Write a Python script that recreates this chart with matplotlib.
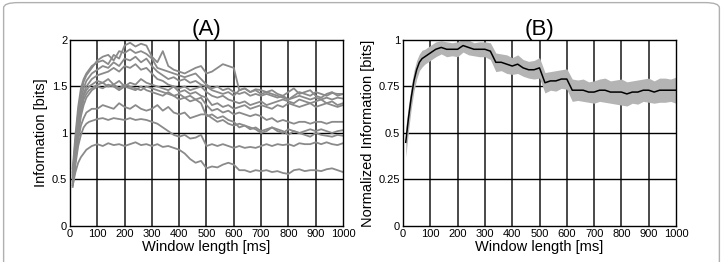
import numpy as np
import matplotlib.pyplot as plt
from matplotlib.patches import FancyBboxPatch

plt.rcParams['font.family'] = ['Liberation Sans', 'DejaVu Sans']

# window length axis (ms)
x = [10, 20, 30, 40, 50, 60, 70, 80, 90,
     100, 120, 140, 160, 180, 200, 220, 240, 260, 280,
     300, 320, 340, 360, 380, 400, 420, 440, 460, 480,
     500, 520, 540, 560, 580, 600, 620, 640, 660, 680,
     700, 720, 740, 760, 780, 800, 820, 840, 860, 880,
     900, 920, 940, 960, 980, 1000]

# (A) information per cell [bits]
info_curves = [
    [0.62, 0.98, 1.28, 1.48, 1.58, 1.64, 1.68, 1.72, 1.74,
     1.76, 1.78, 1.74, 1.84, 1.80, 1.94, 1.97, 1.93, 1.96, 1.94,
     1.82, 1.76, 1.88, 1.72, 1.68, 1.66, 1.64, 1.67, 1.70, 1.72,
     1.64, 1.66, 1.70, 1.74, 1.72, 1.70, 1.46, 1.48, 1.44, 1.47,
     1.46, 1.44, 1.42, 1.40, 1.38, 1.36, 1.40, 1.44, 1.42, 1.40,
     1.44, 1.42, 1.40, 1.43, 1.42, 1.42],
    [0.58, 0.92, 1.22, 1.42, 1.55, 1.62, 1.66, 1.70, 1.74,
     1.78, 1.82, 1.84, 1.78, 1.88, 1.86, 1.90, 1.86, 1.88, 1.85,
     1.80, 1.70, 1.68, 1.66, 1.64, 1.62, 1.60, 1.62, 1.64, 1.58,
     1.52, 1.48, 1.50, 1.46, 1.48, 1.44, 1.42, 1.44, 1.40, 1.42,
     1.40, 1.42, 1.40, 1.38, 1.40, 1.36, 1.38, 1.40, 1.38, 1.36,
     1.38, 1.36, 1.38, 1.36, 1.38, 1.37],
    [0.55, 0.88, 1.16, 1.36, 1.48, 1.56, 1.60, 1.64, 1.66,
     1.68, 1.72, 1.70, 1.76, 1.72, 1.80, 1.78, 1.82, 1.76, 1.80,
     1.72, 1.66, 1.62, 1.58, 1.60, 1.56, 1.58, 1.54, 1.56, 1.52,
     1.50, 1.46, 1.44, 1.42, 1.44, 1.40, 1.46, 1.48, 1.44, 1.46,
     1.42, 1.44, 1.46, 1.42, 1.40, 1.44, 1.48, 1.42, 1.44, 1.46,
     1.40, 1.38, 1.42, 1.44, 1.40, 1.42],
    [0.52, 0.84, 1.10, 1.30, 1.42, 1.50, 1.54, 1.58, 1.60,
     1.62, 1.64, 1.66, 1.70, 1.66, 1.72, 1.70, 1.74, 1.68, 1.70,
     1.64, 1.58, 1.56, 1.52, 1.50, 1.48, 1.50, 1.46, 1.48, 1.50,
     1.44, 1.40, 1.38, 1.40, 1.36, 1.34, 1.32, 1.34, 1.30, 1.32,
     1.34, 1.30, 1.32, 1.34, 1.36, 1.34, 1.32, 1.36, 1.34, 1.32,
     1.34, 1.36, 1.32, 1.34, 1.30, 1.32],
    [0.50, 0.80, 1.06, 1.26, 1.40, 1.46, 1.50, 1.52, 1.54,
     1.56, 1.54, 1.58, 1.52, 1.56, 1.50, 1.54, 1.52, 1.58, 1.54,
     1.52, 1.50, 1.48, 1.46, 1.50, 1.44, 1.46, 1.42, 1.44, 1.40,
     1.38, 1.30, 1.32, 1.28, 1.30, 1.26, 1.28, 1.30, 1.26, 1.28,
     1.30, 1.28, 1.26, 1.30, 1.28, 1.32, 1.30, 1.28, 1.30, 1.32,
     1.28, 1.30, 1.32, 1.30, 1.28, 1.30],
    [0.48, 0.78, 1.02, 1.22, 1.36, 1.42, 1.46, 1.48, 1.50,
     1.52, 1.54, 1.50, 1.52, 1.48, 1.52, 1.50, 1.48, 1.46, 1.50,
     1.48, 1.46, 1.44, 1.42, 1.40, 1.42, 1.38, 1.40, 1.36, 1.38,
     1.30, 1.24, 1.26, 1.22, 1.24, 1.20, 1.22, 1.20, 1.18, 1.20,
     1.18, 1.14, 1.16, 1.12, 1.14, 1.12, 1.10, 1.12, 1.12, 1.10,
     1.12, 1.12, 1.10, 1.12, 1.12, 1.12],
    [0.46, 0.74, 0.98, 1.18, 1.30, 1.38, 1.42, 1.46, 1.48,
     1.50, 1.48, 1.52, 1.50, 1.46, 1.50, 1.48, 1.46, 1.50, 1.46,
     1.44, 1.42, 1.40, 1.44, 1.40, 1.36, 1.38, 1.34, 1.36, 1.32,
     1.18, 1.20, 1.16, 1.18, 1.14, 1.12, 1.06, 1.08, 1.04, 1.06,
     1.02, 1.04, 1.06, 1.02, 1.00, 1.04, 1.02, 1.00, 1.02, 1.04,
     1.02, 1.04, 1.02, 1.00, 1.02, 1.03],
    [0.44, 0.70, 0.92, 1.08, 1.16, 1.22, 1.24, 1.26, 1.26,
     1.26, 1.30, 1.28, 1.26, 1.32, 1.28, 1.26, 1.30, 1.26, 1.24,
     1.26, 1.30, 1.24, 1.28, 1.22, 1.20, 1.22, 1.16, 1.18, 1.20,
     1.20, 1.16, 1.12, 1.14, 1.10, 1.08, 1.10, 1.08, 1.06, 1.04,
     1.00, 1.02, 1.06, 1.04, 1.02, 0.98, 1.02, 1.00, 0.98, 0.96,
     1.00, 0.98, 0.97, 0.96, 0.98, 0.97],
    [0.42, 0.66, 0.86, 0.98, 1.06, 1.10, 1.12, 1.13, 1.14,
     1.15, 1.16, 1.14, 1.16, 1.15, 1.14, 1.16, 1.14, 1.15, 1.14,
     1.12, 1.10, 1.06, 1.02, 0.98, 0.96, 0.98, 0.94, 0.95, 0.98,
     0.86, 0.88, 0.86, 0.88, 0.86, 0.84, 0.86, 0.84, 0.85, 0.84,
     0.86, 0.88, 0.86, 0.88, 0.87, 0.88, 0.86, 0.89, 0.88, 0.88,
     0.90, 0.88, 0.90, 0.88, 0.87, 0.89],
    [0.44, 0.58, 0.68, 0.74, 0.78, 0.82, 0.84, 0.86, 0.87,
     0.88, 0.86, 0.89, 0.87, 0.88, 0.86, 0.88, 0.90, 0.87, 0.88,
     0.86, 0.88, 0.85, 0.86, 0.84, 0.82, 0.78, 0.72, 0.68, 0.70,
     0.62, 0.64, 0.63, 0.66, 0.68, 0.66, 0.60, 0.60, 0.58, 0.60,
     0.59, 0.60, 0.58, 0.59, 0.57, 0.56, 0.60, 0.61, 0.59, 0.60,
     0.60, 0.59, 0.61, 0.62, 0.60, 0.58],
]

# (B) normalized information, mean and spread
norm_mean = [0.45, 0.58, 0.69, 0.78, 0.84, 0.88, 0.90, 0.91, 0.92,
             0.93, 0.95, 0.96, 0.95, 0.95, 0.95, 0.97, 0.96, 0.95, 0.95,
             0.95, 0.94, 0.88, 0.88, 0.87, 0.86, 0.87, 0.85, 0.84, 0.84,
             0.85, 0.77, 0.78, 0.78, 0.79, 0.79, 0.73, 0.73, 0.73, 0.72,
             0.72, 0.73, 0.73, 0.72, 0.72, 0.72, 0.71, 0.72, 0.72, 0.73,
             0.73, 0.72, 0.73, 0.73, 0.73, 0.73]
norm_spread = [0.08, 0.07, 0.06, 0.055, 0.05, 0.045, 0.045, 0.04, 0.04,
               0.04, 0.04, 0.035, 0.04, 0.035, 0.04, 0.035, 0.04, 0.035, 0.04,
               0.04, 0.045, 0.05, 0.045, 0.05, 0.045, 0.05, 0.045, 0.045, 0.05,
               0.055, 0.055, 0.05, 0.055, 0.05, 0.055, 0.06, 0.055, 0.06, 0.055,
               0.06, 0.06, 0.065, 0.06, 0.065, 0.07, 0.065, 0.06, 0.065, 0.06,
               0.065, 0.06, 0.065, 0.065, 0.06, 0.07]

xticks = list(range(0, 1001, 100))
yticks_a = [0, 0.5, 1, 1.5, 2]
ylabels_a = ['0', '0.5', '1', '1.5', '2']
yticks_b = [0, 0.25, 0.5, 0.75, 1]
ylabels_b = ['0', '0.25', '0.5', '0.75', '1']

fig = plt.figure(figsize=(7.23, 2.62), dpi=100)
frame = FancyBboxPatch((0.005, -0.1), 0.99, 1.09, boxstyle='round,pad=0,rounding_size=0.02',
                       transform=fig.transFigure, fc='white', ec='#b0b0b0', lw=1.0, zorder=-10)
fig.patches.append(frame)

axA = fig.add_axes([0.0968, 0.1374, 0.3776, 0.71])
axB = fig.add_axes([0.5574, 0.1374, 0.3776, 0.71])


def style(ax, yt, yl, ymax):
    ax.set_xlim(0, 1000)
    ax.set_ylim(0, ymax)
    ax.set_xticks(xticks)
    ax.set_xticklabels([str(t) for t in xticks])
    ax.set_yticks(yt)
    ax.set_yticklabels(yl)
    ax.tick_params(labelsize=8, length=0, pad=2)
    for t in xticks[1:-1]:
        ax.axvline(t, color='#3a3a3a', lw=1.3, zorder=1)
    for t in yt[1:-1]:
        ax.axhline(t, color='black', lw=1.0, zorder=1)
    for s in ax.spines.values():
        s.set_linewidth(1.0)
        s.set_color('black')
    ax.set_xlabel('Window length [ms]', fontsize=10.5, labelpad=1)


for c in info_curves:
    axA.plot(x, c, color='#8a8a8a', lw=1.3, zorder=2)
style(axA, yticks_a, ylabels_a, 2)
axA.set_ylabel('Information [bits]', fontsize=10.5, labelpad=3)
axA.set_title('(A)', fontsize=16, pad=2)

lo = np.array(norm_mean) - np.array(norm_spread)
hi = np.array(norm_mean) + np.array(norm_spread)
axB.fill_between(x, lo, hi, color='#b4b4b4', lw=0, zorder=2)
axB.plot(x, norm_mean, color='black', lw=1.1, zorder=3)
style(axB, yticks_b, ylabels_b, 1)
axB.set_ylabel('Normalized Information [bits]', fontsize=10.5, labelpad=3)
axB.set_title('(B)', fontsize=16, pad=2)

fig.savefig('out.png', dpi=100)
